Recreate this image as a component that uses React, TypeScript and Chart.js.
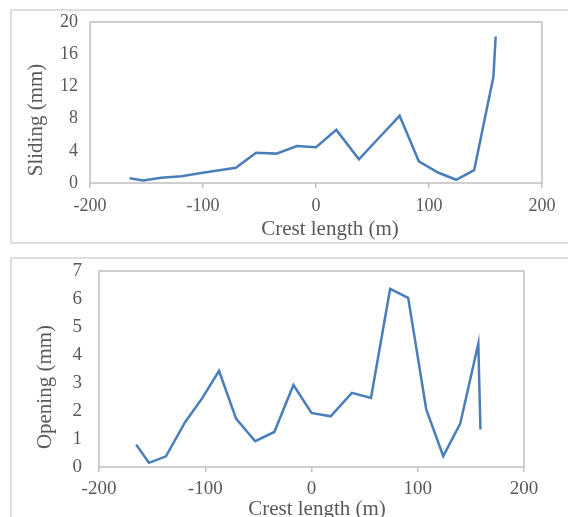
import React, { useEffect, useRef } from "react";
import { Chart, registerables } from "chart.js";

Chart.register(...registerables);

// ---- data ----
const crestLength = [-165, -153, -137, -119, -103, -87, -71, -53, -35, -17, 0, 18, 38, 56, 74, 91, 108, 124, 140, 157, 159];
const sliding = [0.6, 0.3, 0.65, 0.85, 1.2, 1.55, 1.9, 3.75, 3.65, 4.6, 4.45, 6.6, 2.95, 5.65, 8.35, 2.7, 1.3, 0.4, 1.6, 13.2, 18.2];
const opening = [0.8, 0.15, 0.38, 1.6, 2.45, 3.43, 1.73, 0.92, 1.25, 2.93, 1.93, 1.81, 2.65, 2.47, 6.36, 6.04, 2.06, 0.39, 1.55, 4.41, 1.34];

const xRange = [-200, 200];
const xStep = 100;
const slidingRange = [0, 20];
const slidingStep = 4;
const openingRange = [0, 7];
const openingStep = 1;

const xTitle = "Crest length (m)";
const slidingTitle = "Sliding (mm)";
const openingTitle = "Opening (mm)";

const FONT = '"Liberation Serif", "Times New Roman", serif';
const TEXT = "#595959";
const LINE = "#4A7EBB";
const FRAME = "#bfbfbf";

const frameAndTitles = {
  id: "frameAndTitles",
  beforeDatasetsDraw(chart: any) {
    const { ctx, chartArea } = chart;
    const { left, top, right, bottom } = chartArea;
    ctx.save();
    ctx.strokeStyle = FRAME;
    ctx.lineWidth = 1.5;
    ctx.strokeRect(left, top, right - left, bottom - top);
    ctx.restore();
  },
  afterDraw(chart: any, _args: any, opts: any) {
    const ctx = chart.ctx;
    ctx.save();
    ctx.fillStyle = TEXT;
    ctx.font = `${opts.size}px ${FONT}`;
    ctx.textAlign = "center";
    ctx.textBaseline = "middle";
    ctx.fillText(opts.xText, opts.xPos[0], opts.xPos[1]);
    ctx.translate(opts.yPos[0], opts.yPos[1]);
    ctx.rotate(-Math.PI / 2);
    ctx.fillText(opts.yText, 0, 0);
    ctx.restore();
  },
};

type Cfg = {
  values: number[];
  yRange: number[];
  yStep: number;
  yTitle: string;
  width: number;
  height: number;
  padTop: number;
  padRight: number;
  yAxisWidth: number;
  xAxisHeight: number;
  tickSize: number;
  xTickPad: number;
  yTickPad: number;
  xTitlePos: number[];
  yTitlePos: number[];
};

function LineChart(props: Cfg) {
  const ref = useRef<HTMLCanvasElement>(null);
  useEffect(() => {
    if (!ref.current) return;
    const data = crestLength.map((x, i) => ({ x, y: props.values[i] }));
    const chart = new Chart(ref.current, {
      type: "line",
      data: {
        datasets: [
          {
            data,
            borderColor: LINE,
            borderWidth: 2.5,
            pointRadius: 0,
            tension: 0,
            fill: false,
          },
        ],
      },
      options: {
        animation: false,
        responsive: false,
        devicePixelRatio: 1,
        layout: { padding: { top: 0, right: props.padRight, left: 0, bottom: 0 } },
        plugins: {
          legend: { display: false },
          tooltip: { enabled: false },
          frameAndTitles: {
            size: 21,
            xText: xTitle,
            yText: props.yTitle,
            xPos: props.xTitlePos,
            yPos: props.yTitlePos,
          },
        } as any,
        scales: {
          x: {
            type: "linear",
            min: xRange[0],
            max: xRange[1],
            afterFit: (s: any) => {
              s.height = props.xAxisHeight;
            },
            ticks: {
              stepSize: xStep,
              color: TEXT,
              font: { family: FONT, size: props.tickSize },
              padding: props.xTickPad,
              maxRotation: 0,
              autoSkip: false,
            },
            grid: {
              drawOnChartArea: false,
              drawTicks: true,
              tickLength: 5,
              color: FRAME,
              lineWidth: 1.5,
            },
            border: { display: false },
          },
          y: {
            type: "linear",
            min: props.yRange[0],
            max: props.yRange[1],
            afterFit: (s: any) => {
              s.width = props.yAxisWidth;
              s.paddingTop = props.padTop;
              s.paddingBottom = 0;
            },
            ticks: {
              stepSize: props.yStep,
              color: TEXT,
              font: { family: FONT, size: props.tickSize },
              padding: props.yTickPad,
              autoSkip: false,
            },
            grid: { display: false, drawTicks: false },
            border: { display: false },
          },
        },
      },
      plugins: [frameAndTitles],
    });
    return () => chart.destroy();
  }, []);
  return (
    <canvas
      ref={ref}
      width={props.width}
      height={props.height}
      style={{ width: props.width, height: props.height, display: "block" }}
    />
  );
}

export default function App() {
  return (
    <div
      style={{
        position: "absolute",
        left: 0,
        top: 0,
        width: 568,
        height: 517,
        overflow: "hidden",
        background: "#fff",
      }}
    >
      <div
        style={{
          position: "absolute",
          left: 10,
          top: 9,
          width: 640,
          height: 235,
          boxSizing: "border-box",
          border: "2px solid #dedede",
        }}
      />
      <div
        style={{
          position: "absolute",
          left: 10,
          top: 257,
          width: 640,
          height: 320,
          boxSizing: "border-box",
          border: "2px solid #dedede",
        }}
      />
      <div style={{ position: "absolute", left: 12, top: 11 }}>
        <LineChart
          values={sliding}
          yRange={slidingRange}
          yStep={slidingStep}
          yTitle={slidingTitle}
          width={556}
          height={231}
          padTop={11}
          padRight={26}
          yAxisWidth={78}
          xAxisHeight={59}
          tickSize={18}
          xTickPad={7}
          yTickPad={12}
          xTitlePos={[318, 218]}
          yTitlePos={[24, 109]}
        />
      </div>
      <div style={{ position: "absolute", left: 12, top: 259 }}>
        <LineChart
          values={opening}
          yRange={openingRange}
          yStep={openingStep}
          yTitle={openingTitle}
          width={556}
          height={258}
          padTop={12}
          padRight={44}
          yAxisWidth={87}
          xAxisHeight={50}
          tickSize={19}
          xTickPad={6}
          yTickPad={17}
          xTitlePos={[305, 250]}
          yTitlePos={[33, 128]}
        />
      </div>
    </div>
  );
}
